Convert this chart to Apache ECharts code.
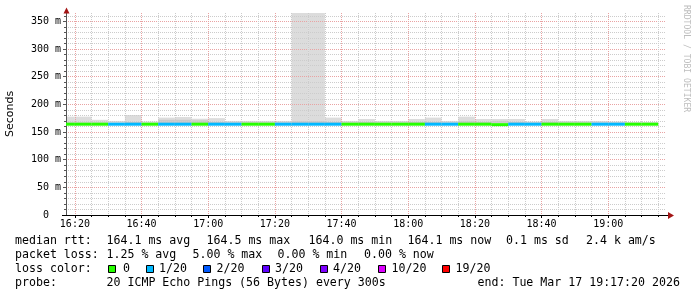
<!DOCTYPE html>
<html><head><meta charset="utf-8">
<script src="https://cdn.jsdelivr.net/npm/echarts@6/dist/echarts.min.js"></script>
<style>html,body{margin:0;padding:0;background:#fff}#c{width:697px;height:297px}</style>
</head><body><div id="c"></div>
<script>
// ---- data ----
const viewStart = '16:17:20';
const viewEnd = '19:17:20';
const binStart = ['16:15','16:20','16:25','16:30','16:35','16:40','16:45','16:50','16:55',
  '17:00','17:05','17:10','17:15','17:20','17:25','17:30','17:35','17:40','17:45','17:50','17:55',
  '18:00','18:05','18:10','18:15','18:20','18:25','18:30','18:35','18:40','18:45','18:50','18:55',
  '19:00','19:05','19:10'];
const medianRtt = [164.1,164.1,164.1,164.1,164.1,164.1,164.1,164.1,164.1,
  164.1,164.1,164.1,164.1,164.1,164.1,164.1,164.1,164.1,164.1,164.1,164.1,
  164.1,164.1,164.1,164.1,164.1,163.3,164.1,164.1,164.1,164.1,164.1,164.1,
  164.1,164.1,164.1];
const lossCount = [0,0,0,1,1,0,1,1,0,
  1,1,0,0,1,1,1,1,0,0,0,0,
  0,1,1,0,0,0,1,1,0,0,0,1,
  1,0,0];
const smokeMin = [163,163,163,163,163,163,163,163,163,
  163,163,163,163,163,163,163,163,163,163,163,163,
  163,163,163,163,163,166.5,163,163,163,163,163,163,
  163,163,163];
const smokeInner = [167,167,167,166,168,166,172,172,171,
  168,167,167,167,167,170,170,168,167,168,167,167,
  168,168,167,170,168,170,168,167,168,167,167,167,
  167,166,166];
const smokeMax = [177.7,177.7,172,170,180.7,169,176,177,174,
  175,170,170,170,170,400,400,176,170,173.5,170,170,
  173.5,176,170,177.7,173.5,173.5,173.5,169,173.5,170,170,170,
  169,168,168];
const xMajorTicks = ['16:20','16:40','17:00','17:20','17:40','18:00','18:20','18:40','19:00'];
const xMinorTicks = ['16:25','16:30','16:35','16:45','16:50','16:55','17:05','17:10','17:15',
  '17:25','17:30','17:35','17:45','17:50','17:55','18:05','18:10','18:15','18:25','18:30','18:35',
  '18:45','18:50','18:55','19:05','19:10','19:15'];
const yMajorTicks = [0,50,100,150,200,250,300,350];
const yMinorTicks = [10,20,30,40,60,70,80,90,110,120,130,140,160,170,180,190,210,220,230,240,
  260,270,280,290,310,320,330,340,360];
const lossLabels = ['0','1/20','2/20','3/20','4/20','10/20','19/20'];
const lossThresholds = [0,1,2,3,4,10,19];
const lossColors = ['#26ff00','#00b8ff','#0059ff','#5e00ff','#7e00ff','#dd00ff','#ff0000'];
const statRows = [
  ['median rtt:','164.1 ms avg','164.5 ms max','164.0 ms min','164.1 ms now','0.1 ms sd','2.4 k am/s'],
  ['packet loss:','1.25 % avg','5.00 % max','0.00 % min','0.00 % now'],
  ['probe:','20 ICMP Echo Pings (56 Bytes) every 300s','end: Tue Mar 17 19:17:20 2026']
];

// ---- helpers ----
const STEP = 5;
const toMin = s => { const p = s.split(':').map(Number); return p[0]*60 + p[1] + (p[2]||0)/60; };
const fmtTime = v => { const h = Math.floor(v/60), m = Math.round(v - h*60); return h + ':' + String(m).padStart(2,'0'); };
const lossColor = n => { let c = lossColors[0]; lossThresholds.forEach((t,i)=>{ if (n >= t) c = lossColors[i]; }); return c; };
function clampRect(x1,x2,y1,y2,cs){
  const l = Math.max(Math.min(x1,x2), cs.x), r = Math.min(Math.max(x1,x2), cs.x+cs.width);
  const t = Math.max(Math.min(y1,y2), cs.y), b = Math.min(Math.max(y1,y2), cs.y+cs.height);
  if (r <= l || b <= t) return null;
  return {x:l, y:t, width:r-l, height:b-t};
}
const xMin = toMin(viewStart), xMax = toMin(viewEnd);
const smokeData = binStart.map((t,i)=>[toMin(t), toMin(t)+STEP, smokeMin[i], smokeInner[i], smokeMax[i]]);
const medData = binStart.map((t,i)=>[toMin(t), toMin(t)+STEP, medianRtt[i], lossCount[i]]);

const MONO = 'DejaVu Sans Mono';
const RED = '#e9a3a3', GRAY = '#cccccc';

// ---- graphic texts ----
const rowY = [241, 255, 269, 283];
const rowX = [
  [15,106.5,206.5,308.5,407.5,506,586],
  [15,106.5,192.5,277.5,364],
  [15,106.5,477.5]
];
const rowYIdx = [0,1,3];
const graphics = [];
statRows.forEach((row,ri)=>{
  row.forEach((txt,j)=>{
    graphics.push({type:'text', x:rowX[ri][j], y:rowY[rowYIdx[ri]], silent:true,
      style:{text:txt, font:'11.6px "DejaVu Sans Mono"', fill:'#000', align:'left', verticalAlign:'middle'}});
  });
});
graphics.push({type:'text', x:15, y:rowY[2], style:{text:'loss color:', font:'11.6px "DejaVu Sans Mono"', fill:'#000', align:'left', verticalAlign:'middle'}});
const sqX = [108.5,146.5,203.5,262.5,320.5,378.5,442.5];
const lbX = [123,159,216.5,275,333,391.5,455.5];
lossLabels.forEach((lab,i)=>{
  graphics.push({type:'rect', shape:{x:sqX[i], y:rowY[2]-3.5, width:7, height:7},
    style:{fill:lossColors[i], stroke:'#000', lineWidth:1}});
  graphics.push({type:'text', x:lbX[i], y:rowY[2], style:{text:lab, font:'11.6px "DejaVu Sans Mono"', fill:'#000', align:'left', verticalAlign:'middle'}});
});
graphics.push({type:'text', x:10.5, y:114, rotation:Math.PI/2,
  style:{text:'Seconds', font:'11px "DejaVu Sans"', fill:'#000', align:'center', verticalAlign:'middle'}});
graphics.push({type:'text', x:686.5, y:5, rotation:-Math.PI/2,
  style:{text:'RRDTOOL / TOBI OETIKER', font:'8.1px "DejaVu Sans Mono"', fill:'#bdbdbd', align:'left', verticalAlign:'middle'}});
// axis arrows / extensions
graphics.push({type:'line', shape:{x1:62, y1:215.5, x2:669, y2:215.5}, style:{stroke:'#000', lineWidth:1}, z:10});
graphics.push({type:'polygon', shape:{points:[[63.5,13.5],[69.5,13.5],[66.5,7.5]]}, style:{fill:'#a31515'}, z:10});
graphics.push({type:'polygon', shape:{points:[[668,212],[668,219],[674,215.5]]}, style:{fill:'#a31515'}, z:10});

const chart = echarts.init(document.getElementById('c'), null, {renderer:'canvas'});
chart.setOption({
  animation:false,
  backgroundColor:'#ffffff',
  grid:{left:66, right:31, top:13, bottom:82, containLabel:false},
  xAxis:[
    {type:'value', min:xMin, max:xMax, position:'bottom',
     axisLine:{show:true, lineStyle:{color:'#000', width:1}},
     axisTick:{show:true, customValues:xMajorTicks.map(toMin), length:3, lineStyle:{color:'#000'}},
     axisLabel:{show:true, customValues:xMajorTicks.map(toMin), formatter:fmtTime,
       fontFamily:MONO, fontSize:10, color:'#000', margin:4},
     splitLine:{show:true, lineStyle:{color:RED, type:[1,1], width:1}}},
    {type:'value', min:xMin, max:xMax, position:'bottom',
     axisLine:{show:false},
     axisTick:{show:true, customValues:xMinorTicks.map(toMin), length:2, lineStyle:{color:'#000'}},
     axisLabel:{show:false},
     splitLine:{show:true, lineStyle:{color:GRAY, type:[1,1], width:1}}}
  ],
  yAxis:[
    {type:'value', min:0, max:365, position:'left',
     axisLine:{show:true, lineStyle:{color:'#555', width:1}},
     axisTick:{show:true, customValues:yMajorTicks, length:3, lineStyle:{color:'#555'}},
     axisLabel:{show:true, customValues:yMajorTicks, formatter:v => v===0 ? '0  ' : v+' m',
       fontFamily:MONO, fontSize:10, color:'#000', margin:5},
     splitLine:{show:true, showMinLine:false, lineStyle:{color:RED, type:[1,1], width:1}}},
    {type:'value', min:0, max:365, position:'left',
     axisLine:{show:false},
     axisTick:{show:true, customValues:yMinorTicks, length:2, lineStyle:{color:'#555'}},
     axisLabel:{show:false},
     splitLine:{show:true, lineStyle:{color:GRAY, type:[1,1], width:1}}}
  ],
  series:[
    {type:'custom', name:'smoke', z:-1, xAxisIndex:0, yAxisIndex:0, data:smokeData,
     encode:{x:[0,1], y:[2,3,4]},
     renderItem:(params, api)=>{
       const cs = params.coordSys;
       const s = api.value(0), e = api.value(1), lo = api.value(2), mid = api.value(3), hi = api.value(4);
       const a = api.coord([s, lo]), b = api.coord([e, hi]), c = api.coord([e, mid]);
       const children = [];
       const r1 = clampRect(a[0], b[0], a[1], b[1], cs);
       if (r1) children.push({type:'rect', shape:r1, style:{fill:'#dcdcdc'}});
       const r2 = clampRect(a[0], c[0], a[1], c[1], cs);
       if (r2) children.push({type:'rect', shape:r2, style:{fill:'#c8c8c8'}});
       return {type:'group', children};
     }},
    {type:'custom', name:'median', z:5, xAxisIndex:0, yAxisIndex:0, data:medData,
     encode:{x:[0,1], y:2},
     renderItem:(params, api)=>{
       const cs = params.coordSys;
       const s = api.value(0), e = api.value(1), m = api.value(2), n = api.value(3);
       const a = api.coord([s, m]), b = api.coord([e, m]);
       const r = clampRect(a[0], b[0], a[1]-1.5, a[1]+1.5, cs);
       if (!r) return null;
       return {type:'rect', shape:r, style:{fill:lossColor(n)}};
     }}
  ],
  graphic: graphics
});
</script></body></html>
